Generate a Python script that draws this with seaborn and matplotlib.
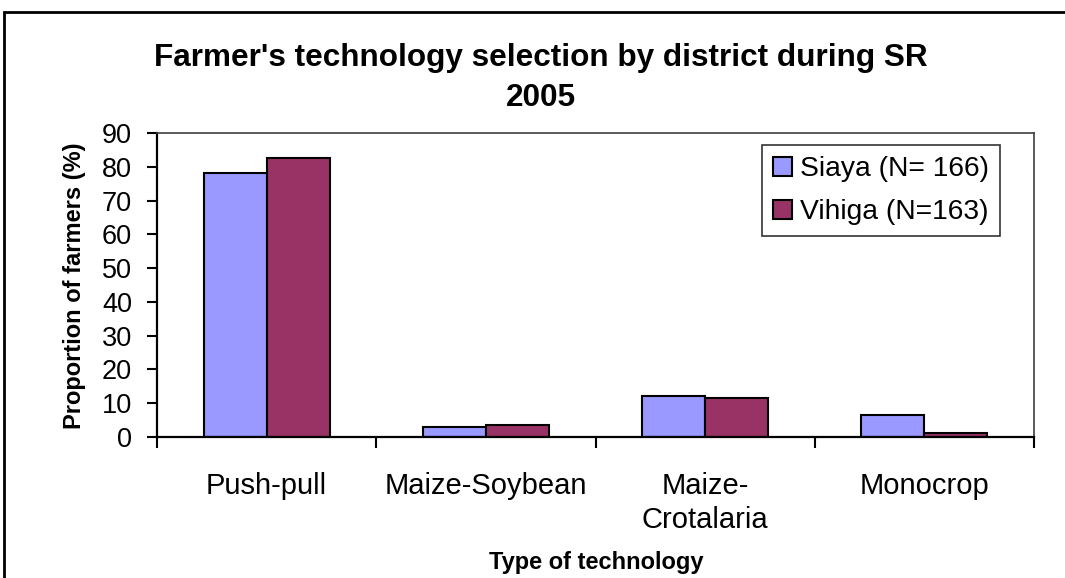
import matplotlib
matplotlib.use("Agg")
import matplotlib.pyplot as plt
import seaborn as sns
import pandas as pd
from matplotlib.patches import Rectangle

categories = ["Push-pull", "Maize-Soybean", "Maize-\nCrotalaria", "Monocrop"]
series_names = ["Siaya (N= 166)", "Vihiga (N=163)"]
siaya = [78.1, 2.9, 12.2, 6.5]
vihiga = [82.7, 3.5, 11.6, 1.1]
colors = ["#9999FF", "#993366"]
yticks = [0, 10, 20, 30, 40, 50, 60, 70, 80, 90]

df = pd.DataFrame({
    "tech": categories * 2,
    "pct": siaya + vihiga,
    "district": [series_names[0]] * 4 + [series_names[1]] * 4,
})

sns.set_theme(style="white")
plt.rcParams["font.family"] = ["Liberation Sans", "DejaVu Sans"]
plt.rcParams["text.color"] = "black"
plt.rcParams["xtick.color"] = "black"
plt.rcParams["ytick.color"] = "black"
plt.rcParams["axes.labelcolor"] = "black"

W, H = 1065, 578
fig = plt.figure(figsize=(W / 100, H / 100), dpi=100)
ax = fig.add_axes([157 / W, 1 - 437 / H, (1034 - 157) / W, (437 - 133) / H])

sns.barplot(data=df, x="tech", y="pct", hue="district", order=categories,
            hue_order=series_names, palette=colors, width=0.575, gap=0,
            edgecolor="black", linewidth=1.5, saturation=1, ax=ax)

ax.set_ylim(0, 90)
ax.set_xlim(-0.5, 3.5)
ax.set_yticks(yticks)
ax.set_yticklabels([str(v) for v in yticks], fontsize=19.5)
ax.set_xticks([-0.5, 0.5, 1.5, 2.5, 3.5])
ax.set_xticklabels([])
ax.set_xticks(range(4), minor=True)
ax.set_xticklabels(categories, minor=True, fontsize=21, linespacing=1.3)
ax.tick_params(axis="x", which="minor", length=0, pad=25)
ax.tick_params(axis="x", which="major", length=8, width=1.5, color="black", direction="out", bottom=True)
ax.tick_params(axis="y", length=7, width=1.5, color="black", direction="out", left=True, pad=11)

for s in ["left", "bottom"]:
    ax.spines[s].set_color("black")
    ax.spines[s].set_linewidth(1.6)
for s in ["top", "right"]:
    ax.spines[s].set_color("#404040")
    ax.spines[s].set_linewidth(1.2)

ax.set_xlabel("")
ax.set_ylabel("")
fig.text(75 / W, 1 - 286 / H, "Proportion of farmers (%)", rotation=90, ha="center",
         va="center", fontsize=17, fontweight="bold")
fig.text(596 / W, 1 - 563 / H, "Type of technology", ha="center", va="center",
         fontsize=17, fontweight="bold")
fig.text(541 / W, 1 - 78 / H, "Farmer's technology selection by district during SR\n2005",
         ha="center", va="center", fontsize=22.7, fontweight="bold", linespacing=1.45)

leg = ax.legend(loc="upper left", bbox_to_anchor=((762 - 157) / (1034 - 157), 1 - (145 - 133) / (437 - 133)),
                fontsize=20.3, frameon=True, fancybox=False, edgecolor="black",
                handlelength=0.65, handleheight=0.65, handletextpad=0.3, borderpad=0.4,
                labelspacing=0.6, borderaxespad=0)
leg.get_frame().set_linewidth(1.2)

fig.patches.append(Rectangle((4 / W, -0.1), 1.2, 1 - 12 / H + 0.1, transform=fig.transFigure,
                             fill=False, edgecolor="black", linewidth=2, zorder=10))

fig.savefig("out.png", dpi=100)
